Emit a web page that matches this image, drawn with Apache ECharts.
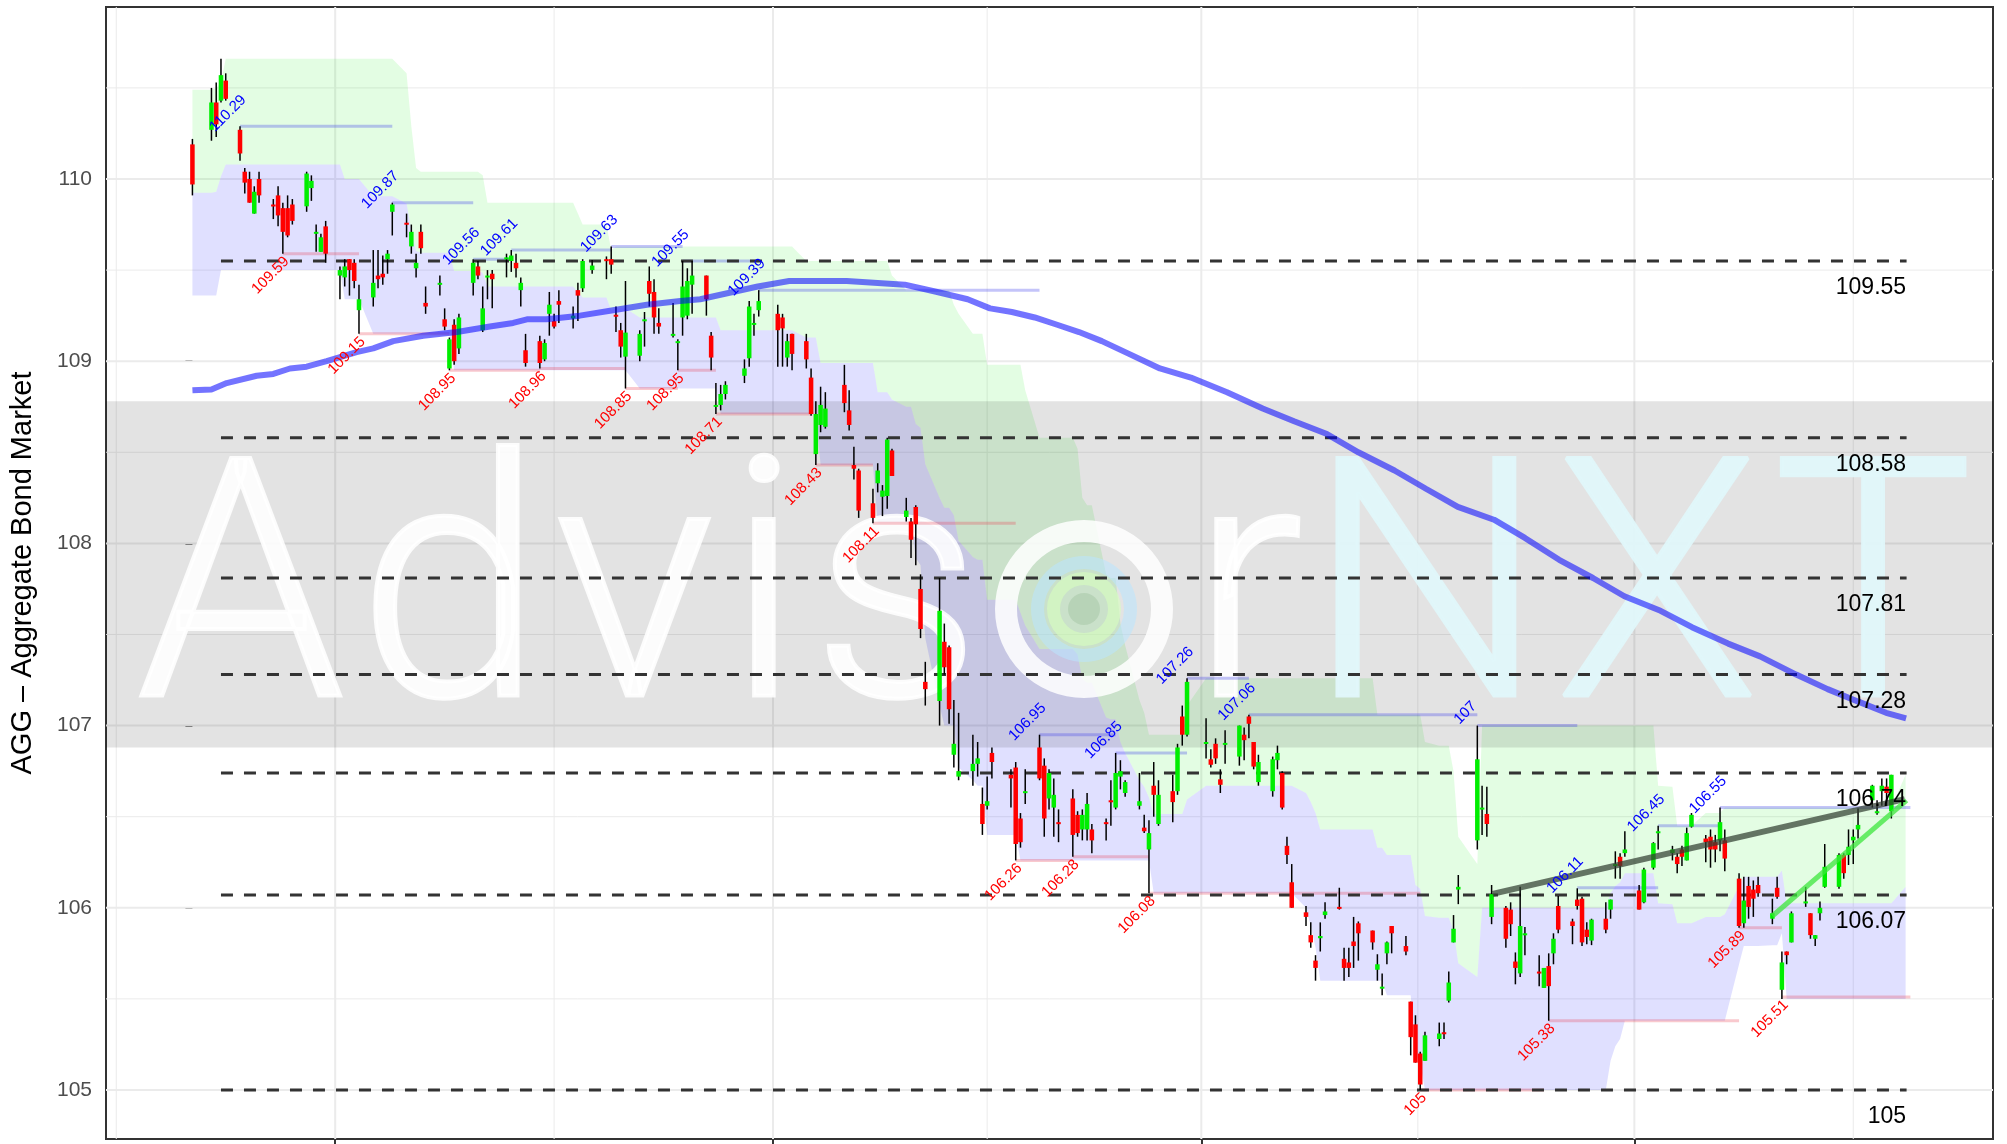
<!DOCTYPE html>
<html><head><meta charset="utf-8">
<script src="https://cdn.jsdelivr.net/npm/echarts@6/dist/echarts.min.js"></script>
<style>html,body{margin:0;padding:0;background:#fff;}#c{width:2007px;height:1144px;}</style>
</head><body><div id="c"></div>
<script>
// ---------------- DATA ----------------
const startDate = [2017, 8, 1];
const holidays = ['2017-09-04','2017-11-23','2017-12-25','2018-01-01','2018-01-15','2018-02-19','2018-03-30','2018-05-28','2018-07-04'];
const candleCount = 247;

const openP = [110.19,110.27,110.42,110.43,110.54,110.27,110.04,110.00,109.81,110.00,
109.86,109.91,109.84,109.84,109.86,109.85,109.95,109.70,109.60,109.74,
109.47,109.46,109.56,109.54,109.28,109.35,109.47,109.48,109.56,109.82,
109.76,109.63,109.51,109.71,109.32,109.42,109.23,108.96,109.20,109.07,
109.43,109.52,109.17,109.46,109.48,109.56,109.55,109.54,109.39,109.06,
109.11,109.01,109.26,109.22,109.33,109.235,109.39,109.40,109.50,109.56,
109.56,109.255,109.17,109.025,109.03,109.22,109.44,109.38,109.21,109.14,
109.10,109.24,109.25,109.42,109.47,109.14,108.757,108.76,108.82,108.92,
109.016,109.20,109.28,109.26,109.24,109.02,109.15,109.11,108.91,108.49,
108.65,108.64,108.87,108.73,108.43,108.40,108.22,108.33,108.256,108.26,
108.51,108.145,108.12,108.20,107.75,107.24,107.135,107.46,107.43,106.84,
106.72,106.75,106.79,106.57,106.56,106.85,106.73,106.77,106.49,106.63,
106.88,106.78,106.60,106.55,106.47,106.60,106.51,106.43,106.43,106.43,
106.47,106.59,106.55,106.72,106.63,106.56,106.44,106.32,106.67,106.46,
106.64,106.64,107.05,106.95,106.90,106.815,106.90,106.705,106.895,106.83,
106.95,107.05,106.91,106.69,106.64,106.81,106.74,106.34,106.14,105.975,
105.85,105.71,105.833,105.96,106.005,105.72,105.70,105.815,105.915,105.875,
105.66,105.557,105.75,105.90,105.79,105.485,105.36,105.20,105.16,105.28,
105.317,105.49,105.81,106.10,106.37,106.545,106.515,105.95,106.00,105.99,
105.705,105.64,105.85,105.65,105.56,105.68,105.75,106.01,105.925,106.045,
106.05,105.88,105.82,105.94,105.99,106.23,106.28,106.30,106.095,106.03,
106.22,106.41,106.30,106.28,106.32,106.26,106.445,106.38,106.39,106.36,
106.37,106.37,106.16,105.915,106.12,106.10,106.125,105.94,106.11,105.55,
105.76,105.81,106.03,105.97,105.83,105.97,106.115,106.115,106.29,106.29,
106.37,106.43,106.59,106.52,106.64,106.665,106.53];
const closeP = [109.97,110.42,110.30,110.57,110.44,110.14,109.98,109.87,109.93,109.91,
109.85,109.80,109.71,109.69,109.77,110.03,109.99,109.71,109.68,109.59,
109.50,109.52,109.50,109.44,109.34,109.43,109.45,109.46,109.59,109.86,
109.75,109.71,109.54,109.62,109.30,109.43,109.19,109.12,109.00,109.24,
109.54,109.47,109.29,109.47,109.45,109.57,109.58,109.51,109.43,108.99,
108.99,109.10,109.31,109.19,109.31,109.25,109.36,109.55,109.525,109.55,
109.53,109.25,109.08,109.157,109.15,109.23,109.37,109.24,109.19,109.15,
109.11,109.41,109.44,109.47,109.34,109.02,108.76,108.82,108.87,108.96,
109.30,109.21,109.33,109.17,109.18,109.11,109.04,109.01,108.71,108.71,
108.76,108.74,108.77,108.65,108.41,108.18,108.14,108.40,108.29,108.57,
108.37,108.18,108.02,108.105,107.53,107.20,107.63,107.32,107.09,106.90,
106.75,106.79,106.82,106.46,106.585,106.80,106.71,106.35,106.36,106.64,
106.71,106.49,106.74,106.62,106.46,106.40,106.41,106.51,106.57,106.37,
106.46,106.58,106.74,106.75,106.69,106.585,106.42,106.41,106.62,106.62,
106.58,106.88,106.95,107.24,106.91,106.785,106.82,106.675,106.905,107.00,
106.92,107.01,106.775,106.80,106.815,106.85,106.55,106.29,106.00,105.95,
105.81,105.67,105.845,105.98,106.00,105.67,105.67,105.79,105.86,105.81,
105.69,105.567,105.81,105.86,105.76,105.29,105.15,105.03,105.30,105.31,
105.312,105.59,105.885,106.115,106.815,106.55,106.46,106.075,105.83,105.91,
105.67,105.90,105.86,105.64,105.67,105.57,105.83,105.88,105.90,106.01,
105.81,105.84,105.935,105.88,106.045,106.24,106.23,106.32,105.99,106.21,
106.355,106.42,106.32,106.24,106.28,106.41,106.51,106.36,106.32,106.32,
106.47,106.27,105.90,106.04,106.005,106.05,106.08,105.97,106.06,105.70,
105.74,105.97,106.035,105.85,105.85,106.00,106.225,106.29,106.19,106.335,
106.39,106.455,106.67,106.53,106.67,106.63,106.73];
const highP = [110.22,110.50,110.53,110.66,110.58,110.29,110.06,110.04,109.96,110.04,
109.89,109.96,109.87,109.91,109.89,110.04,110.02,109.75,109.70,109.77,
109.52,109.56,109.56,109.56,109.42,109.61,109.61,109.58,109.61,109.87,
109.81,109.75,109.59,109.75,109.41,109.47,109.29,109.13,109.23,109.26,
109.56,109.55,109.41,109.50,109.50,109.59,109.61,109.59,109.46,109.15,
109.14,109.12,109.38,109.26,109.39,109.30,109.43,109.56,109.555,109.575,
109.63,109.30,109.21,109.44,109.17,109.27,109.52,109.45,109.29,109.32,
109.12,109.55,109.51,109.55,109.47,109.16,108.88,108.87,108.89,109.01,
109.33,109.26,109.39,109.31,109.26,109.15,109.15,109.15,108.96,108.78,
108.86,108.83,108.98,108.84,108.53,108.41,108.30,108.44,108.32,108.58,
108.52,108.25,108.14,108.21,107.83,107.35,107.81,107.56,107.44,107.14,
107.07,106.95,106.91,106.66,106.72,106.88,106.76,106.80,106.52,106.76,
106.95,106.82,106.76,106.71,106.54,106.65,106.53,106.54,106.63,106.46,
106.49,106.70,106.85,106.81,106.70,106.74,106.51,106.48,106.80,106.70,
106.73,106.90,107.11,107.26,107.04,106.87,106.93,106.76,106.975,107.00,
106.99,107.06,106.91,106.84,106.83,106.89,106.75,106.39,106.24,106.01,
105.92,105.74,105.92,106.03,106.11,105.78,105.78,105.95,105.925,105.875,
105.745,105.64,105.815,105.90,105.845,105.485,105.41,105.21,105.32,105.37,
105.37,105.65,105.96,106.18,107.00,106.67,106.665,106.125,106.01,106.03,
105.755,106.115,105.895,105.74,105.67,105.75,105.86,106.065,105.94,106.107,
106.06,105.92,105.94,106.03,106.045,106.31,106.30,106.42,106.125,106.22,
106.36,106.45,106.34,106.30,106.34,106.44,106.52,106.40,106.43,106.40,
106.55,106.43,106.19,106.17,106.17,106.15,106.17,106.05,106.17,105.76,
105.76,105.98,106.115,105.97,105.85,106.035,106.35,106.30,106.30,106.43,
106.43,106.545,106.675,106.59,106.71,106.71,106.73];
const lowP = [109.91,110.21,110.23,110.42,110.43,110.10,109.92,109.87,109.81,109.87,
109.78,109.74,109.59,109.68,109.75,109.82,109.88,109.60,109.60,109.54,
109.34,109.41,109.36,109.40,109.15,109.30,109.40,109.42,109.48,109.69,
109.68,109.59,109.46,109.59,109.26,109.36,109.17,108.95,108.98,109.04,
109.36,109.45,109.16,109.34,109.29,109.46,109.49,109.46,109.30,108.97,
108.96,109.00,109.14,109.18,109.21,109.18,109.22,109.38,109.48,109.45,
109.48,109.16,109.02,108.85,109.00,109.08,109.30,109.15,109.15,109.13,
108.95,109.14,109.23,109.26,109.25,108.95,108.71,108.73,108.79,108.88,
108.97,109.14,109.245,108.97,108.97,108.97,108.95,108.96,108.70,108.43,
108.61,108.63,108.72,108.62,108.35,108.14,108.11,108.28,108.15,108.19,
108.37,108.12,107.92,107.88,107.48,107.11,107.00,107.28,107.01,106.77,
106.70,106.67,106.72,106.40,106.54,106.71,106.55,106.26,106.33,106.57,
106.70,106.39,106.54,106.39,106.36,106.28,106.39,106.37,106.37,106.30,
106.37,106.45,106.54,106.65,106.61,106.54,106.41,106.08,106.50,106.45,
106.47,106.62,106.89,106.94,106.82,106.77,106.79,106.63,106.79,106.78,
106.81,106.93,106.76,106.67,106.61,106.76,106.54,106.24,106.00,105.90,
105.78,105.60,105.76,105.94,105.99,105.60,105.62,105.67,105.71,105.77,
105.60,105.52,105.69,105.75,105.74,105.19,105.15,105.00,105.16,105.24,
105.28,105.48,105.81,106.02,106.32,106.40,106.39,105.91,105.78,105.845,
105.58,105.62,105.74,105.57,105.56,105.38,105.69,105.86,105.80,105.99,
105.79,105.80,105.795,105.86,105.94,106.16,106.16,106.28,105.99,106.025,
106.21,106.32,106.26,106.19,106.23,106.26,106.44,106.25,106.22,106.25,
106.31,106.20,105.89,105.89,105.94,105.95,106.06,105.91,106.05,105.50,
105.69,105.81,106.005,105.83,105.79,105.93,106.11,106.105,106.16,106.235,
106.24,106.38,106.55,106.51,106.56,106.56,106.49];

// channel bands (run-length: [value, number of trading days]), last entry = next trading day
const upperRuns = [[110.49,2],[110.50,1],[110.53,1],[110.66,26],[110.58,1],[110.29,1],[110.06,1],[110.04,9],[110.02,1],[109.87,13],[109.81,1],[109.75,3],[109.61,1],[109.63,26],[109.55,13],[109.47,1],[109.39,8],[109.31,1],[109.26,1],[109.15,3],[108.98,5],[108.84,1],[108.58,6],[108.52,1],[108.25,1],[108.21,2],[107.83,1],[107.81,2],[107.56,1],[107.44,1],[107.14,1],[107.07,1],[106.95,6],[107.11,1],[107.26,26],[107.06,8],[106.91,1],[106.89,3],[106.75,1],[106.39,1],[106.24,1],[107.00,26],[106.67,1],[106.665,1],[106.45,4],[106.52,4],[106.55,26],[106.73,1]];
const lowerRuns = [[109.36,3],[109.50,18],[109.34,4],[109.15,13],[108.95,26],[108.85,13],[108.71,13],[108.43,7],[108.11,6],[107.92,1],[107.88,1],[107.48,1],[107.11,1],[107.00,3],[106.77,1],[106.70,1],[106.67,2],[106.40,4],[106.26,20],[106.08,21],[106.00,1],[105.90,1],[105.78,1],[105.60,10],[105.52,4],[105.19,1],[105.15,1],[105.00,26],[105.16,1],[105.24,1],[105.28,1],[105.38,15],[105.69,1],[105.79,4],[105.795,2],[105.86,1],[105.50,18]];
const midRuns = [[109.925,2],[109.93,1],[110.015,1],[110.08,17],[110.00,4],[109.905,5],[109.865,1],[109.72,1],[109.605,1],[109.595,5],[109.495,4],[109.485,1],[109.41,13],[109.38,1],[109.35,3],[109.28,1],[109.29,3],[109.24,13],[109.17,10],[109.13,3],[108.99,7],[108.83,3],[108.79,1],[108.75,2],[108.655,1],[108.635,1],[108.435,1],[108.25,1],[108.195,2],[108.155,1],[108.015,1],[107.925,1],[107.91,2],[107.69,4],[107.62,1],[107.55,1],[107.42,6],[107.39,1],[107.255,1],[107.235,2],[107.045,1],[107.035,2],[106.91,1],[106.85,1],[106.70,1],[106.665,1],[106.605,1],[106.515,5],[106.595,1],[106.67,15],[106.63,1],[106.58,1],[106.52,1],[106.43,8],[106.33,2],[106.29,4],[106.125,1],[106.105,1],[105.955,1],[105.945,3],[105.875,1],[105.695,1],[105.62,1],[106.00,19],[106.08,1],[106.12,1],[106.14,1],[106.19,4],[106.025,1],[106.02,1],[105.915,4],[105.95,4],[105.965,1],[106.12,1],[106.17,6],[106.205,1],[106.025,17],[106.115,1]];

// moving average (day offset from 2017-09-01, value)
const maDays = [0,4,7.2,13.5,17,20.5,24,28.2,34.5,38,42.2,48.5,55.6,62.5,67.4,70.3,74.4,81.4,88.4,95.5,102.5,106.7,118.8,125.4,137.5,149.7,156.5,162.9,167.6,172.2,177,181.7,186.3,191.1,196.8,203.3,209.8,217.4,224.9,231.5,238.4,245,252.6,259.2,265.9,273.5,280,287.2,294.3,300.9,308.5,315.1,322.7,329.4,337,343.6,350.2,355.9,360.1];
const maValues = [108.84,108.845,108.88,108.92,108.93,108.96,108.97,109.0,109.05,109.07,109.11,109.14,109.16,109.19,109.21,109.23,109.23,109.25,109.28,109.31,109.33,109.34,109.41,109.44,109.44,109.42,109.38,109.34,109.29,109.27,109.24,109.20,109.16,109.11,109.04,108.96,108.91,108.83,108.74,108.67,108.60,108.50,108.40,108.30,108.20,108.13,108.03,107.91,107.81,107.71,107.63,107.54,107.45,107.38,107.28,107.20,107.13,107.07,107.04];

// horizontal levels
const levelValues = [109.55,108.58,107.81,107.28,106.74,106.07,105];
const levelLabels = ['109.55','108.58','107.81','107.28','106.74','106.07','105'];
const levelStart = 6, levelEnd = 360.2;

// pivots
const pivotHighDays = [10,42,59,67,88,103,119,178,194,209,222,270,291,308,321];
const pivotHighValues = [110.29,109.87,109.56,109.61,109.63,109.55,109.39,106.95,106.85,107.26,107.06,107,106.11,106.45,106.55];
const pivotHighEnds = [42,59,67,88,103,119,178,194,209,222,270,291,308,321,361];
const pivotLowDays = [19,35,54,73,91,102,110,131,143,173,185,201,258,285,325,334];
const pivotLowValues = [109.59,109.15,108.95,108.96,108.85,108.95,108.71,108.43,108.11,106.26,106.28,106.08,105,105.38,105.89,105.51];
const pivotLowEnds = [35,54,73,91,102,110,130,143,173,185,201,258,284,325,334,361];

// trend lines
const trendGray = [[273.2,106.076],[359.8,106.596]];
const trendGreen = [[332,105.955],[360.2,106.59]];

// watermark band
const bandTop = 108.78, bandBottom = 106.88;

// axes
const yTicks = [105,106,107,108,109,110];
const yMinor = [105.5,106.5,107.5,108.5,109.5,110.5];
const xMajor = [30,122,212,303];
const xMinor = [-16,76,167,257.5,349];

// ---------------- BUILD ----------------
function buildDays(){
  const start = Date.UTC(startDate[0], startDate[1], startDate[2]);
  const hol = new Set(holidays);
  const out = [];
  for (let k = 0; out.length < candleCount + 1; k++) {
    const dt = new Date(start + k*86400000);
    const wd = dt.getUTCDay();
    const iso = dt.toISOString().slice(0,10);
    if (wd === 0 || wd === 6 || hol.has(iso)) continue;
    out.push(k);
  }
  return out;
}
function expand(runs){ const a=[]; runs.forEach(r=>{ for(let k=0;k<r[1];k++) a.push(r[0]); }); return a; }
const days = buildDays();
const U = expand(upperRuns), LO = expand(lowerRuns), MID = expand(midRuns);
const candles = openP.map((o,i)=>[days[i], o, closeP[i], lowP[i], highP[i]]);
const FONT = '"Liberation Sans", Arial, Helvetica, sans-serif';

function ribbon(top, bot, fill, z){
  return {type:'custom', z, silent:true, data:[[days[0], top[0]]], encode:{x:0,y:1},
    renderItem:(p, api)=>{
      const pts=[];
      for(let i=0;i<top.length;i++) pts.push(api.coord([days[i], top[i]]));
      for(let i=bot.length-1;i>=0;i--) pts.push(api.coord([days[i], bot[i]]));
      return {type:'polygon', shape:{points:pts}, style:{fill}};
    }};
}

const gridSpec = [];
yTicks.forEach(v=>gridSpec.push([0,v])); yMinor.forEach(v=>gridSpec.push([1,v]));
xMajor.forEach(v=>gridSpec.push([2,v])); xMinor.forEach(v=>gridSpec.push([3,v]));

const pivLines = [];
pivotHighDays.forEach((d,i)=>pivLines.push([d, pivotHighEnds[i], pivotHighValues[i], 0]));
pivotLowDays.forEach((d,i)=>pivLines.push([d, pivotLowEnds[i], pivotLowValues[i], 1]));
const pivLabels = [];
pivotHighDays.forEach((d,i)=>pivLabels.push([d, pivotHighValues[i], 0]));
pivotLowDays.forEach((d,i)=>pivLabels.push([d, pivotLowValues[i], 1]));

const chart = echarts.init(document.getElementById('c'));
const wmFont = '300 334px Roboto';
const wmY = 612;
const wmLetters = [['A',240.7,0],['d',450.5,0],['v',634.6,0],['i',763.8,0],['s',897,0],['r',1247,0],['N',1426,1],['X',1657,1],['T',1873,1]];
const graphicEls = wmLetters.map(l=>{
  const col = l[2] ? 'rgba(224,247,250,0.95)' : 'rgba(255,255,255,0.88)';
  return {type:'text', x:l[1], y:wmY, z:4, silent:true,
    style:{text:l[0], font:wmFont, fill:col, stroke:col, lineWidth:4, align:'center', verticalAlign:'middle'}};
});
graphicEls.push({type:'ring', z:4, silent:true, shape:{cx:1084, cy:609, r:89, r0:67}, style:{fill:'rgba(255,255,255,0.85)'}});
graphicEls.push({type:'ring', z:4, silent:true, shape:{cx:1084, cy:609, r:53, r0:40}, style:{fill:'rgba(185,230,255,0.55)'}});
graphicEls.push({type:'ring', z:4, silent:true, shape:{cx:1084, cy:609, r:37, r0:24}, style:{fill:'rgba(215,255,190,0.6)'}});
graphicEls.push({type:'circle', z:4, silent:true, shape:{cx:1084, cy:609, r:16}, style:{fill:'rgba(150,185,150,0.35)'}});
graphicEls.push({type:'text', x:23, y:573, rotation:Math.PI/2, z:20, silent:true,
  style:{text:'AGG \u2013 Aggregate Bond Market', font:'29px '+FONT, fill:'#000', align:'center', verticalAlign:'middle'}});

const option = {
  animation:false,
  backgroundColor:'#ffffff',
  grid:{left:106, right:14, top:7, bottom:5, show:true, borderColor:'#333333', borderWidth:2, backgroundColor:'transparent'},
  xAxis:{type:'value', min:-18.16, max:378.36, axisLine:{show:false},
    axisTick:{show:true, customValues:xMajor, length:7, lineStyle:{color:'#333', width:2}},
    axisLabel:{show:false}, splitLine:{show:false}},
  yAxis:{type:'value', min:104.731, max:110.944, axisLine:{show:false},
    axisTick:{show:true, customValues:yTicks, length:7, lineStyle:{color:'#333', width:2}},
    axisLabel:{show:true, customValues:yTicks, fontSize:21, color:'#4d4d4d', margin:14, fontFamily:FONT},
    splitLine:{show:false}},
  graphic:{elements:graphicEls},
  series:[
    {type:'custom', z:1, silent:true, data:gridSpec, encode:{x:1,y:1},
      renderItem:(p, api)=>{
        const cs = p.coordSys, k = api.value(0), v = api.value(1);
        const w = (k===0||k===2) ? 2 : 1;
        if (k < 2) { const y = api.coord([0, v])[1];
          return {type:'line', shape:{x1:cs.x, y1:y, x2:cs.x+cs.width, y2:y}, style:{stroke:'#ebebeb', lineWidth:w}}; }
        const x = api.coord([v, 107])[0];
        return {type:'line', shape:{x1:x, y1:cs.y, x2:x, y2:cs.y+cs.height}, style:{stroke:'#ebebeb', lineWidth:w}};
      }},
    ribbon(U, MID, 'rgba(0,235,0,0.11)', 2),
    ribbon(MID, LO, 'rgba(0,0,255,0.12)', 2),
    {type:'custom', z:3, silent:true, data:[[0, bandTop, bandBottom]], encode:{x:0,y:[1,2]},
      renderItem:(p, api)=>{ const cs=p.coordSys; const y1=api.coord([0,api.value(1)])[1], y2=api.coord([0,api.value(2)])[1];
        return {type:'rect', shape:{x:cs.x, y:y1, width:cs.width, height:y2-y1}, style:{fill:'rgba(0,0,0,0.11)'}}; }},
    {type:'custom', z:5, silent:true, data:pivLines, encode:{x:[0,1], y:2},
      renderItem:(p, api)=>{ const a=api.coord([api.value(0), api.value(2)]), b=api.coord([api.value(1), api.value(2)]);
        return {type:'line', shape:{x1:a[0], y1:a[1], x2:b[0], y2:b[1]},
          style:{stroke: api.value(3) ? 'rgba(235,60,80,0.28)' : 'rgba(60,60,235,0.30)', lineWidth:3}}; }},
    {type:'custom', z:6, silent:true, data:levelValues.map(v=>[levelStart, levelEnd, v]), encode:{x:[0,1], y:2},
      renderItem:(p, api)=>{ const a=api.coord([api.value(0), api.value(2)]), b=api.coord([api.value(1), api.value(2)]);
        return {type:'line', shape:{x1:a[0], y1:a[1], x2:b[0], y2:b[1]}, style:{stroke:'#333333', lineWidth:3, lineDash:[12,11]}}; }},
    {type:'custom', z:7, silent:true, data:candles, encode:{x:0, y:[1,2,3,4]},
      renderItem:(p, api)=>{
        const d=api.value(0), o=api.value(1), c=api.value(2), l=api.value(3), h=api.value(4);
        const pH=api.coord([d,h]), pL=api.coord([d,l]), pO=api.coord([d,o]), pC=api.coord([d,c]);
        const w = api.size([1,0])[0]*0.95;
        const top = Math.min(pO[1], pC[1]); let ht = Math.abs(pO[1]-pC[1]); if (ht < 2) ht = 2;
        return {type:'group', children:[
          {type:'line', shape:{x1:pH[0], y1:pH[1], x2:pL[0], y2:pL[1]}, style:{stroke:'#000', lineWidth:1.5}},
          {type:'rect', shape:{x:pO[0]-w/2, y:top, width:w, height:ht}, style:{fill: c>=o ? '#00ee00' : '#ff0000'}}
        ]};
      }},
    {type:'line', z:8, silent:true, showSymbol:false, symbol:'none', smooth:false,
      data:maDays.map((d,i)=>[d, maValues[i]]), lineStyle:{color:'rgba(0,0,255,0.55)', width:6}},
    {type:'line', z:9, silent:true, symbol:'none', data:trendGray, lineStyle:{color:'rgba(50,62,50,0.72)', width:6}},
    {type:'line', z:9, silent:true, symbol:'none', data:trendGreen, lineStyle:{color:'rgba(60,230,60,0.75)', width:5}},
    {type:'custom', z:10, silent:true, data:pivLabels, encode:{x:0, y:1},
      renderItem:(p, api)=>{ const d=api.value(0), v=api.value(1), low=api.value(2);
        const pt = api.coord([d, v]);
        const txt = String(Math.round(v*100)/100);
        if (!low) return {type:'text', x:pt[0]-12, y:pt[1]-12.7, rotation:Math.PI/4,
          style:{text:txt, fill:'#0000ff', font:'15px '+FONT, align:'center', verticalAlign:'middle'}};
        return {type:'text', x:pt[0]+4, y:pt[1]+5.5, rotation:Math.PI/4,
          style:{text:txt, fill:'#ff0000', font:'15px '+FONT, align:'right', verticalAlign:'middle'}};
      }},
    {type:'custom', z:10, silent:true, data:levelValues.map((v,i)=>[levelEnd, v, i]), encode:{x:0, y:1},
      renderItem:(p, api)=>{ const pt=api.coord([api.value(0)-0.1, api.value(1)]);
        return {type:'text', x:pt[0], y:pt[1]+27, style:{text:levelLabels[api.value(2)], fill:'#000', font:'23px '+FONT, align:'right', verticalAlign:'middle'}}; }}
  ]
};
chart.setOption(option);
</script></body></html>
